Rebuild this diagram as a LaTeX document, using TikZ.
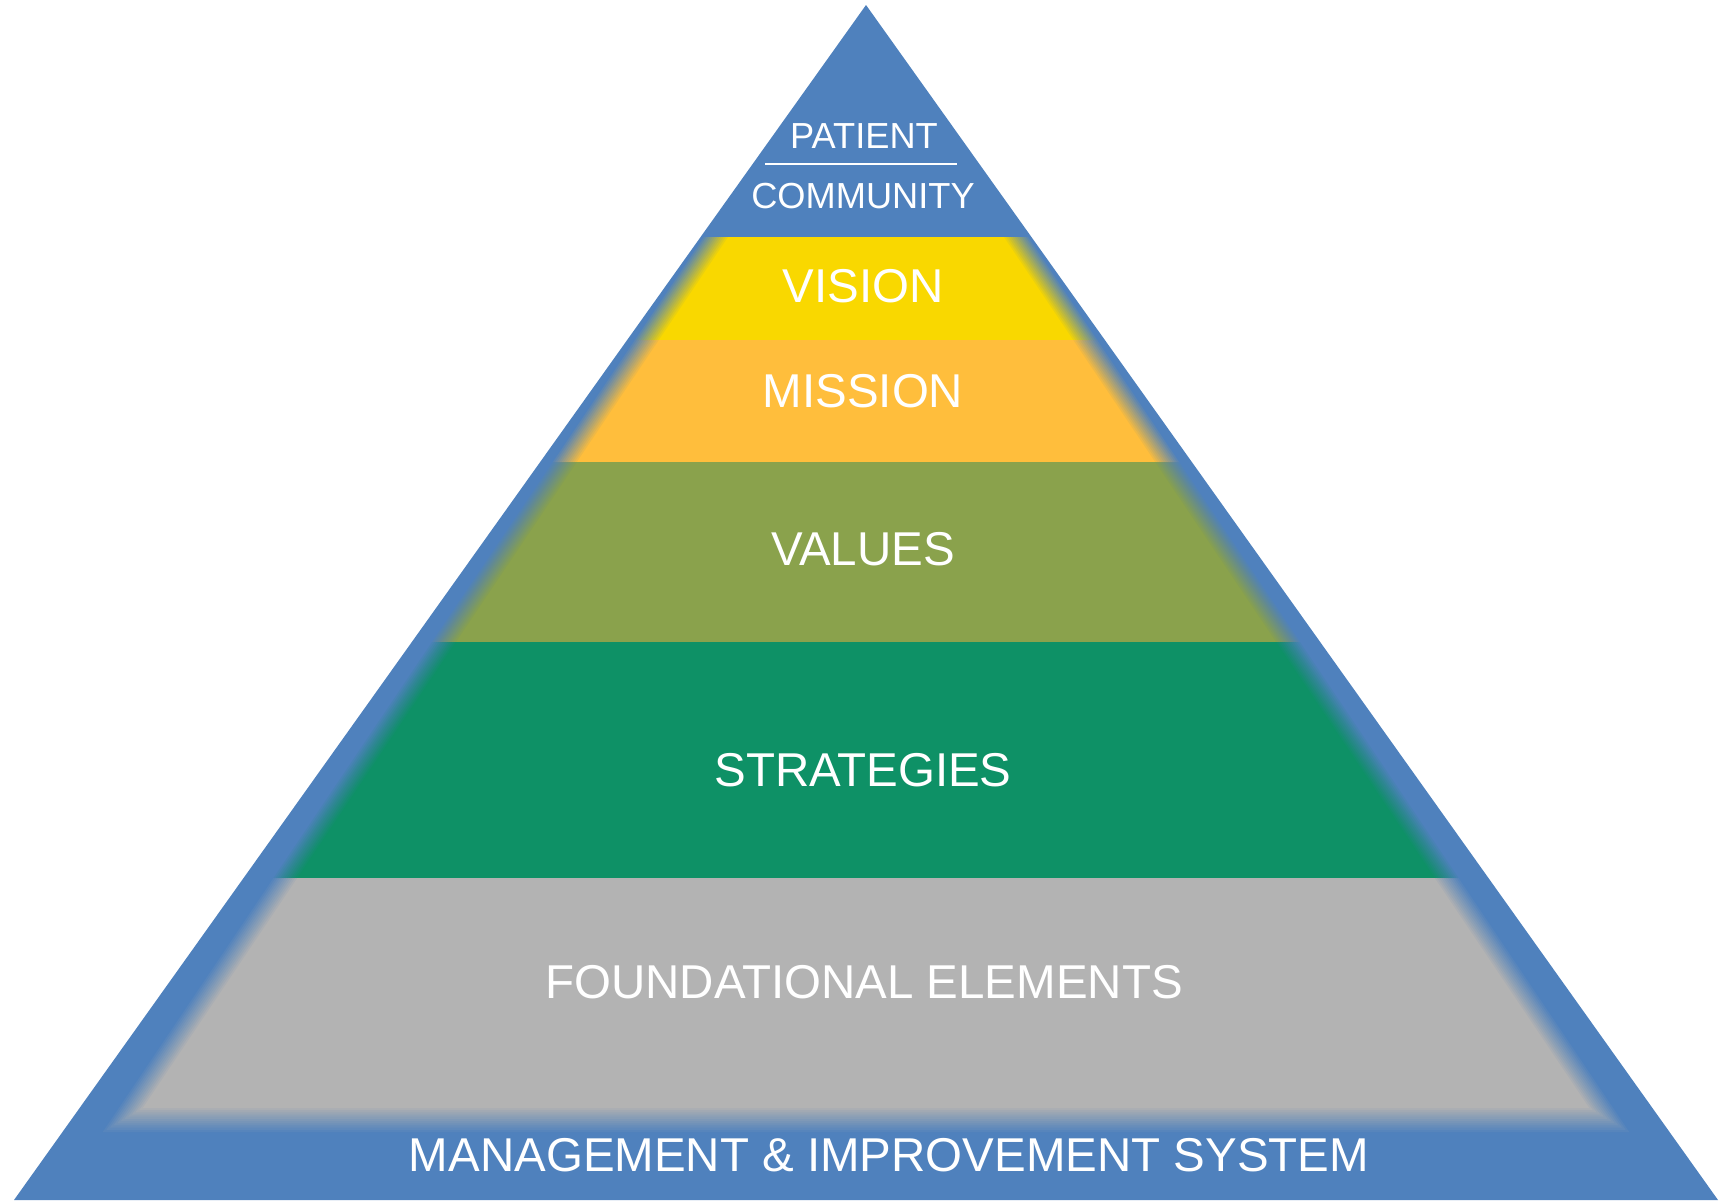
\documentclass[tikz,border=0pt]{standalone}
\usepackage{fontspec}
\setmainfont{Liberation Sans}
\definecolor{pyramid blue}{RGB}{79,129,189}
\definecolor{vision yellow}{RGB}{249,216,0}
\definecolor{mission orange}{RGB}{255,190,60}
\definecolor{values green}{RGB}{138,162,76}
\definecolor{strategy green}{RGB}{14,145,102}
\definecolor{base gray}{RGB}{179,179,179}
\tikzset{
  layer label/.style={
    text=white,
    inner sep=0pt,
    font=\fontsize{13.5}{16}\selectfont,
  },
  apex label/.style={
    text=white,
    inner sep=0pt,
    font=\fontsize{10.3}{12}\selectfont,
  },
  divider/.style={
    draw=white,
    line width=0.6pt,
  }
}
% soft-edged band: colour, top, bottom, blur of the bottom edge (0 or 1)
\newcommand{\pyrband}[4]{%
  \foreach \n in {1,...,12}{
    \pgfmathsetmacro{\d}{-12+24*(\n-1)/11}
    \pgfmathsetmacro{\op}{1/(13-\n)}
    \pgfmathsetmacro{\yb}{#3-#4*\d}
    \fill[#1, opacity=\op]
      ({866-0.672*(#2-14)+\d},#2) -- ({866+0.672*(#2-14)-\d},#2)
      -- ({866+0.672*(\yb-14)-\d},\yb) -- ({866-0.672*(\yb-14)+\d},\yb) -- cycle;
  }
}

\begin{document}
\begin{tikzpicture}[x=0.01cm, y=-0.01cm]
        \useasboundingbox (0,0) rectangle (1722,1200);
        \coordinate (apex) at (866,5);
        \coordinate (base left) at (14,1200);
        \coordinate (base right) at (1718,1200);
        \fill [pyramid blue] (apex) -- (base left) -- (base right) -- cycle;

        \pyrband{vision yellow}{237}{340}{0}
        \pyrband{mission orange}{340}{462}{0}
        \pyrband{values green}{462}{642}{0}
        \pyrband{strategy green}{642}{878}{0}
        \pyrband{base gray}{878}{1120}{1}

        \node [apex label] (patient) at (864,136) {PATIENT};
        \node [apex label] (community) at (863,196) {COMMUNITY};
        \coordinate (sep left) at (765,164);
        \coordinate (sep right) at (957,164);
        \draw [divider] (sep left) -- (sep right);

        \node [layer label] (vision) at (863,286) {VISION};
        \node [layer label] (mission) at (863,391) {MISSION};
        \node [layer label] (values) at (863,549) {VALUES};
        \node [layer label] (strategies) at (863,770) {STRATEGIES};
        \node [layer label] (foundation) at (864,982) {FOUNDATIONAL ELEMENTS};
        \node [layer label] (management) at (889,1155) {MANAGEMENT \& IMPROVEMENT SYSTEM};
      \end{tikzpicture}
\end{document}
